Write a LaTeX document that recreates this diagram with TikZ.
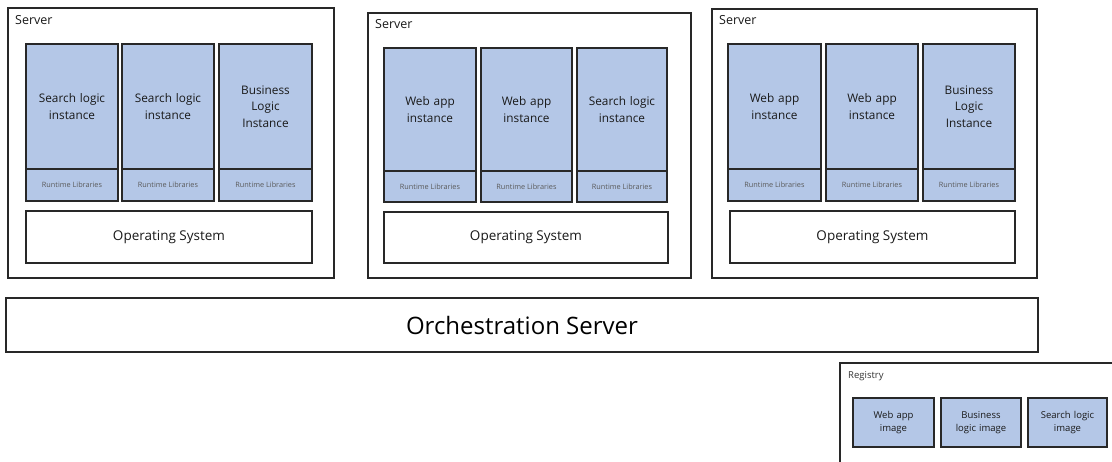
\documentclass[tikz,border=0pt]{standalone}
\usepackage{fontspec}
\setmainfont{Open Sans}
\definecolor{appblue}{RGB}{180,199,231}
\definecolor{edge}{RGB}{40,40,40}
\definecolor{rtgray}{RGB}{90,90,90}
\newcommand\bx[7]{\node[#1, minimum width=#4-#2, minimum height=#5-#3] (#6) at ({(#2+#4)/2},{(#3+#5)/2}) {#7};}
\newcommand\mkcol[7]{%
  \bx{app}{#2}{#4}{#3}{#5}{#1a}{#7}
  \bx{rt}{#2}{#5}{#3}{#6}{#1b}{Runtime Libraries}}
\tikzset{
  srv/.style={draw=edge, line width=1.2pt, inner sep=0},
  app/.style={draw=edge, fill=appblue, line width=1.6pt, inner sep=0, align=center, text width=86pt, font=\fontsize{11.8}{16.5}\selectfont, text=black!90},
  rt/.style={draw=edge, fill=appblue, line width=1.6pt, inner sep=0, align=center, font=\fontsize{7.3}{8}\selectfont, text=rtgray},
  os/.style={draw=edge, fill=white, line width=1.2pt, inner sep=0, font=\fontsize{13.5}{16}\selectfont, text=black!90},
  lbl/.style={anchor=north west, inner sep=0, font=\fontsize{12.5}{14}\selectfont, text=black!90},
  rlbl/.style={anchor=north west, inner sep=0, font=\fontsize{9.5}{11}\selectfont, text=black!80},
  img/.style={draw=edge, fill=appblue, line width=1.3pt, inner sep=0, align=center, text width=78pt, font=\fontsize{9.5}{12.5}\selectfont, text=black!90},
  orch/.style={draw=edge, fill=white, line width=2.2pt, inner sep=0, font=\fontsize{24}{28}\selectfont, text=black},
}
\begin{document}
\begin{tikzpicture}[x=1pt,y=-1pt]
\clip (0,0) rectangle (1112,461);
\fill[white] (0,0) rectangle (1112,461);
% Server 1
\bx{srv}{8}{8}{334}{278}{s1}{}
\node[lbl] (s1l) at (15,15) {Server};
\mkcol{c11}{26}{118}{44}{169}{201}{Search logic\\instance}
\mkcol{c12}{122}{214}{44}{169}{201}{Search logic\\instance}
\mkcol{c13}{219}{312}{44}{169}{201}{Business\\Logic\\Instance}
\bx{os}{26}{211}{312}{263}{os1}{Operating System}
% Server 2
\bx{srv}{368}{13}{691}{278}{s2}{}
\node[lbl] (s2l) at (375,19) {Server};
\mkcol{c21}{384}{476}{48}{171}{202}{Web app\\instance}
\mkcol{c22}{481}{572}{48}{171}{202}{Web app\\instance}
\mkcol{c23}{577}{667}{48}{171}{202}{Search logic\\instance}
\bx{os}{384}{212}{668}{263}{os2}{Operating System}
% Server 3
\bx{srv}{712}{9}{1037}{278}{s3}{}
\node[lbl] (s3l) at (719,15) {Server};
\mkcol{c31}{728}{821}{44}{169}{201}{Web app\\instance}
\mkcol{c32}{826}{918}{44}{169}{201}{Web app\\instance}
\mkcol{c33}{923}{1015}{44}{169}{201}{Business\\Logic\\Instance}
\bx{os}{730}{211}{1015}{263}{os3}{Operating System}
% Orchestration
\bx{orch}{6}{298}{1038}{352}{orch}{Orchestration Server}
% Registry
\bx{srv}{840}{363}{1125}{475}{reg}{}
\node[rlbl] (regl) at (848,371) {Registry};
\bx{img}{853}{398}{934}{447}{i1}{Web app\\image}
\bx{img}{941}{398}{1021}{447}{i2}{Business\\logic image}
\bx{img}{1028}{398}{1107}{447}{i3}{Search logic\\image}
\end{tikzpicture}
\end{document}
